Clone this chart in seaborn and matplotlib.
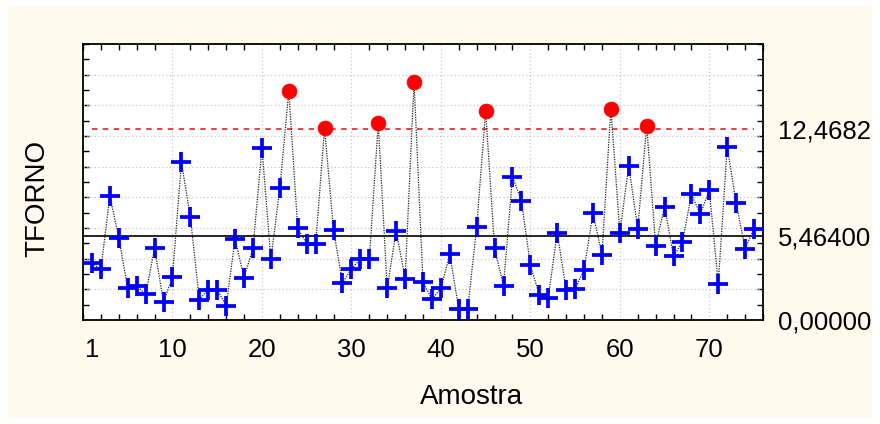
import numpy as np
import pandas as pd
import matplotlib
matplotlib.use("Agg")
import matplotlib.pyplot as plt
from matplotlib.patches import Rectangle
import seaborn as sns

# Individual measurements of TFORNO per sample
amostra = list(range(1, 76))
tforno = [3.70, 3.31, 8.09, 5.37, 2.07, 2.24, 1.67, 4.68, 1.15, 2.83,
          10.29, 6.70, 1.33, 1.98, 1.98, 0.94, 5.28, 2.74, 4.70, 11.20,
          3.98, 8.59, 14.94, 5.98, 4.96, 4.96, 12.50, 5.87, 2.43, 3.33,
          3.98, 3.98, 12.83, 2.07, 5.83, 2.70, 15.53, 2.48, 1.35, 2.07,
          4.28, 0.70, 0.74, 6.07, 13.65, 4.68, 2.22, 9.35, 7.78, 3.59,
          1.63, 1.46, 5.70, 1.96, 2.04, 3.28, 6.96, 4.26, 13.79, 5.70,
          10.07, 5.96, 12.68, 4.85, 7.39, 4.17, 5.09, 8.20, 6.91, 8.48,
          2.37, 11.30, 7.61, 4.65, 5.96]

# Control limits
center_line = 5.464
ucl = 12.4682
y_tick_values = [0.0, center_line, ucl]
y_tick_labels = ["0,00000", "5,46400", "12,4682"]
x_tick_values = [1, 10, 20, 30, 40, 50, 60, 70]

df = pd.DataFrame({"Amostra": amostra, "TFORNO": tforno})
df["fora"] = df["TFORNO"] > ucl

sns.set_theme(style="white")
plt.rcParams["font.family"] = ["Liberation Sans", "DejaVu Sans"]
plt.rcParams["text.color"] = "black"
plt.rcParams["xtick.color"] = "black"
plt.rcParams["ytick.color"] = "black"

fig = plt.figure(figsize=(8.8, 4.24), dpi=100, facecolor="white")
fig.patches.append(Rectangle((8 / 880, 6 / 424), 864 / 880, 412 / 424,
                             transform=fig.transFigure, facecolor="#FEFBEE",
                             edgecolor="none", zorder=-10))
ax = fig.add_axes([83 / 880, 1 - 320 / 424, 680 / 880, 276 / 424])
ax.set_zorder(1)
ax.set_facecolor("white")

# grid
for gy in range(2, 18, 2):
    ax.axhline(gy, color="#c8c8c8", lw=0.9, ls=(0, (1, 2)), zorder=1)
for gx in range(10, 80, 10):
    ax.axvline(gx, color="#c8c8c8", lw=0.9, ls=(0, (1, 2)), zorder=1)

# center line and upper control limit
ax.axhline(center_line, color="black", lw=1.2, zorder=2)
ax.plot([amostra[0], amostra[-1]], [ucl, ucl], color="#f03030", lw=1.3,
        ls=(0, (3, 3)), zorder=2)

sns.lineplot(data=df, x="Amostra", y="TFORNO", ax=ax, color="#222222",
             lw=0.9, linestyle=(0, (1, 1)), zorder=3)
sns.scatterplot(data=df[~df["fora"]], x="Amostra", y="TFORNO", ax=ax,
                marker="+", s=190, color="#0000ff", linewidth=2.7, zorder=4)
sns.scatterplot(data=df[df["fora"]], x="Amostra", y="TFORNO", ax=ax,
                marker="o", s=115, color="#ff0000", edgecolor="#ff0000",
                linewidth=0.5, zorder=5)

ax.set_xlim(0, 76)
ax.set_ylim(0, 18)

# ticks: labelled x values without marks, small inward marks on all sides
ax.set_xticks(x_tick_values)
ax.set_xticklabels([str(v) for v in x_tick_values])
ax.set_xticks(np.arange(0, 77, 2), minor=True)
ax.tick_params(axis="x", which="major", length=0, pad=13, labelsize=18.5,
               labelcolor="black")
ax.tick_params(axis="x", which="minor", direction="in", length=4, width=1,
               top=True, bottom=True, color="black")

ax.yaxis.tick_right()
ax.set_yticks(y_tick_values)
ax.set_yticklabels(y_tick_labels)
ax.set_yticks(np.arange(0, 19, 1), minor=True)
ax.tick_params(axis="y", which="major", length=0, pad=11, labelsize=18.5,
               left=False, right=True, labelcolor="black")
ax.tick_params(axis="y", which="minor", direction="in", length=4, width=1,
               left=True, right=True, color="black")

for s in ax.spines.values():
    s.set_visible(True)
    s.set_color("black")
    s.set_linewidth(1.3)

ax.set_xlabel("")
ax.set_ylabel("")
fig.text(471 / 880, 1 - 397 / 424, "Amostra", fontsize=20, color="black",
         ha="center", va="center")
fig.text(37 / 880, 1 - 198 / 424, "TFORNO", fontsize=20, color="black",
         rotation=90, ha="center", va="center")

fig.savefig("out.png", dpi=100, facecolor=fig.get_facecolor())
